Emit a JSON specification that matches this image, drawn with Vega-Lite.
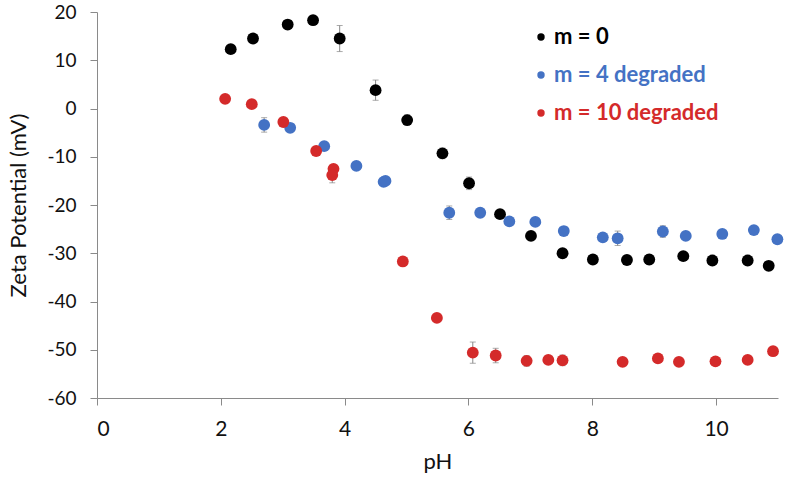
{
  "$schema": "https://vega.github.io/schema/vega-lite/v6.json",
  "autosize": "none",
  "width": 681,
  "height": 386,
  "padding": {"left": 97, "top": 12, "right": 10, "bottom": 85},
  "background": "white",
  "config": {
    "view": {"stroke": null},
    "font": "Lato",
    "axis": {
      "grid": false,
      "domainColor": "#8a8a8a",
      "tickColor": "#8a8a8a",
      "tickSize": 7,
      "labelFont": "Lato",
      "titleFont": "Lato",
      "labelFontSize": 21,
      "titleFontSize": 22,
      "labelColor": "#111",
      "titleColor": "#111",
      "titleFontWeight": "normal",
      "labelExpr": "toString(datum.value)"
    }
  },
  "data": {
    "values": [
      {"series": "m = 0", "pH": 2.16, "zeta": 12.3, "err": 0},
      {"series": "m = 0", "pH": 2.52, "zeta": 14.5, "err": 0},
      {"series": "m = 0", "pH": 3.08, "zeta": 17.4, "err": 0},
      {"series": "m = 0", "pH": 3.49, "zeta": 18.3, "err": 0},
      {"series": "m = 0", "pH": 3.92, "zeta": 14.5, "err": 2.7},
      {"series": "m = 0", "pH": 4.5, "zeta": 3.8, "err": 2.1},
      {"series": "m = 0", "pH": 5.01, "zeta": -2.4, "err": 1.1},
      {"series": "m = 0", "pH": 5.58, "zeta": -9.3, "err": 1.1},
      {"series": "m = 0", "pH": 6.01, "zeta": -15.5, "err": 1.3},
      {"series": "m = 0", "pH": 6.51, "zeta": -21.9, "err": 0.6},
      {"series": "m = 0", "pH": 7.01, "zeta": -26.4, "err": 0},
      {"series": "m = 0", "pH": 7.52, "zeta": -30.0, "err": 0},
      {"series": "m = 0", "pH": 8.01, "zeta": -31.3, "err": 0},
      {"series": "m = 0", "pH": 8.56, "zeta": -31.4, "err": 0},
      {"series": "m = 0", "pH": 8.92, "zeta": -31.3, "err": 1.0},
      {"series": "m = 0", "pH": 9.47, "zeta": -30.6, "err": 0.6},
      {"series": "m = 0", "pH": 9.94, "zeta": -31.5, "err": 0},
      {"series": "m = 0", "pH": 10.51, "zeta": -31.5, "err": 0},
      {"series": "m = 0", "pH": 10.85, "zeta": -32.6, "err": 0},
      {"series": "m = 4 degraded", "pH": 2.7, "zeta": -3.4, "err": 1.5},
      {"series": "m = 4 degraded", "pH": 3.12, "zeta": -4.0, "err": 0},
      {"series": "m = 4 degraded", "pH": 3.67, "zeta": -7.8, "err": 0},
      {"series": "m = 4 degraded", "pH": 4.19, "zeta": -11.9, "err": 0},
      {"series": "m = 4 degraded", "pH": 4.63, "zeta": -15.2, "err": 0},
      {"series": "m = 4 degraded", "pH": 4.66, "zeta": -15.0, "err": 0},
      {"series": "m = 4 degraded", "pH": 5.69, "zeta": -21.6, "err": 1.4},
      {"series": "m = 4 degraded", "pH": 6.19, "zeta": -21.6, "err": 0},
      {"series": "m = 4 degraded", "pH": 6.66, "zeta": -23.4, "err": 0},
      {"series": "m = 4 degraded", "pH": 7.08, "zeta": -23.5, "err": 0},
      {"series": "m = 4 degraded", "pH": 7.54, "zeta": -25.4, "err": 0},
      {"series": "m = 4 degraded", "pH": 8.17, "zeta": -26.7, "err": 0},
      {"series": "m = 4 degraded", "pH": 8.41, "zeta": -26.9, "err": 1.5},
      {"series": "m = 4 degraded", "pH": 9.14, "zeta": -25.5, "err": 1.2},
      {"series": "m = 4 degraded", "pH": 9.51, "zeta": -26.4, "err": 0},
      {"series": "m = 4 degraded", "pH": 10.1, "zeta": -26.0, "err": 0},
      {"series": "m = 4 degraded", "pH": 10.61, "zeta": -25.2, "err": 0},
      {"series": "m = 4 degraded", "pH": 10.99, "zeta": -27.1, "err": 0},
      {"series": "m = 10 degraded", "pH": 2.07, "zeta": 2.0, "err": 0},
      {"series": "m = 10 degraded", "pH": 2.5, "zeta": 0.9, "err": 0},
      {"series": "m = 10 degraded", "pH": 3.01, "zeta": -2.8, "err": 0},
      {"series": "m = 10 degraded", "pH": 3.54, "zeta": -8.8, "err": 0},
      {"series": "m = 10 degraded", "pH": 3.82, "zeta": -12.5, "err": 0},
      {"series": "m = 10 degraded", "pH": 3.8, "zeta": -13.8, "err": 1.6},
      {"series": "m = 10 degraded", "pH": 4.94, "zeta": -31.7, "err": 0},
      {"series": "m = 10 degraded", "pH": 5.49, "zeta": -43.4, "err": 0},
      {"series": "m = 10 degraded", "pH": 6.07, "zeta": -50.6, "err": 2.2},
      {"series": "m = 10 degraded", "pH": 6.44, "zeta": -51.2, "err": 1.5},
      {"series": "m = 10 degraded", "pH": 6.94, "zeta": -52.3, "err": 1.1},
      {"series": "m = 10 degraded", "pH": 7.29, "zeta": -52.1, "err": 0.5},
      {"series": "m = 10 degraded", "pH": 7.52, "zeta": -52.2, "err": 1.1},
      {"series": "m = 10 degraded", "pH": 8.49, "zeta": -52.5, "err": 0},
      {"series": "m = 10 degraded", "pH": 9.06, "zeta": -51.8, "err": 0},
      {"series": "m = 10 degraded", "pH": 9.4, "zeta": -52.5, "err": 0},
      {"series": "m = 10 degraded", "pH": 9.99, "zeta": -52.4, "err": 0},
      {"series": "m = 10 degraded", "pH": 10.51, "zeta": -52.1, "err": 0},
      {"series": "m = 10 degraded", "pH": 10.92, "zeta": -50.3, "err": 0}
    ]
  },
  "encoding": {
    "x": {
      "field": "pH", "type": "quantitative",
      "scale": {"domain": [0, 11], "nice": false, "zero": false},
      "axis": {"title": "pH", "values": [0, 2, 4, 6, 8, 10], "labelPadding": 13, "titlePadding": 12}
    },
    "y": {
      "field": "zeta", "type": "quantitative",
      "scale": {"domain": [-60, 20], "nice": false, "zero": false},
      "axis": {"title": "Zeta Potential (mV)", "values": [-60, -50, -40, -30, -20, -10, 0, 10, 20], "labelFontSize": 19, "labelPadding": 14, "titlePadding": 16}
    }
  },
  "layer": [
    {
      "mark": {"type": "errorbar", "ticks": {"size": 6, "color": "#888", "strokeWidth": 1}, "rule": {"color": "#888", "strokeWidth": 1}},
      "encoding": {
        "yError": {"field": "err"}
      }
    },
    {
      "mark": {"type": "point", "filled": true, "opacity": 1, "size": 140, "clip": false},
      "encoding": {
        "color": {
          "field": "series", "type": "nominal",
          "scale": {"domain": ["m = 0", "m = 4 degraded", "m = 10 degraded"], "range": ["#000000", "#4472c4", "#d42a2a"]},
          "legend": {
            "title": null,
            "orient": "none",
            "legendX": 433,
            "legendY": 14,
            "padding": 0,
            "symbolType": "circle",
            "symbolSize": 55,
            "symbolOpacity": 1,
            "labelFont": "Lato",
            "labelFontSize": 22,
            "labelFontWeight": "bold",
            "labelOffset": 2,
            "rowPadding": 16,
            "labelLimit": 300,
            "encode": {"labels": {"update": {"fill": {"scale": "color", "field": "value"}}}}
          }
        }
      }
    }
  ]
}
